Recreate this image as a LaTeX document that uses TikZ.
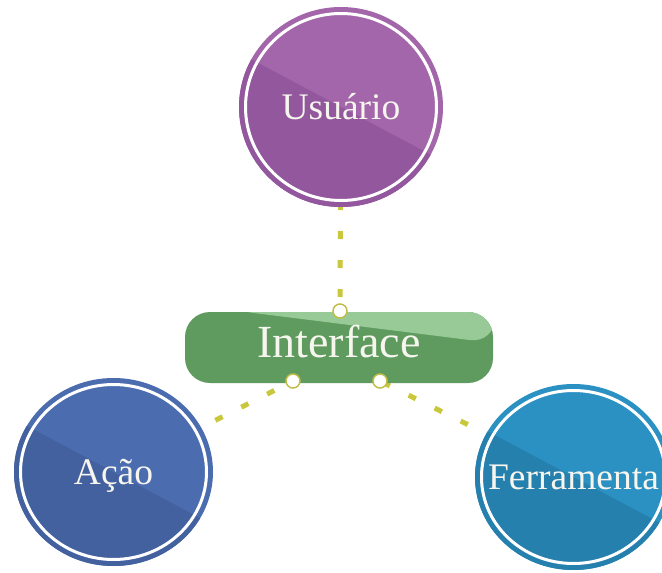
\documentclass[tikz,border=0pt]{standalone}
\usepackage{fontspec}
\setmainfont{Liberation Serif}
\usetikzlibrary{shapes.geometric,calc,backgrounds}

\definecolor{usuLight}{HTML}{A466AA}
\definecolor{usuDark}{HTML}{93579D}
\definecolor{acaoLight}{HTML}{4C6CB0}
\definecolor{acaoDark}{HTML}{43619F}
\definecolor{ferLight}{HTML}{2B90C2}
\definecolor{ferDark}{HTML}{2680AE}
\definecolor{ifLight}{HTML}{97CA97}
\definecolor{ifDark}{HTML}{5F9B5F}
\definecolor{linkCol}{HTML}{C9C83C}
\definecolor{dotRim}{HTML}{C2BC48}
\definecolor{labelCol}{HTML}{F6F5EE}

\tikzset{
  % split disc: lighter upper-right half, darker lower-left half, white inner ring
  bubble/.style n args={4}{
    ellipse, inner sep=0pt, minimum width=#3, minimum height=#4,
    fill=#1, text=labelCol, font=\fontsize{37.5}{42}\selectfont,
    text height=24.8pt, text depth=0pt,
    path picture={
      \fill[#2] ($(path picture bounding box.center)+(152:250pt)$)
             -- ($(path picture bounding box.center)+(-28:250pt)$)
             -- ($(path picture bounding box.center)+(-118:250pt)$) -- cycle;
      \draw[white, line width=3pt] (path picture bounding box.center)
             ellipse [x radius=#3/2-6.5pt, y radius=#4/2-6.5pt];
    }
  },
  hubbox/.style={
    rectangle, rounded corners=25pt, minimum width=308pt, minimum height=71pt,
    inner sep=0pt, fill=ifDark, text=labelCol, font=\fontsize{46}{50}\selectfont,
    text height=30.4pt, text depth=10pt,
    path picture={
      \fill[ifLight] ($(path picture bounding box.north west)+(45pt,2pt)$)
             -- ($(path picture bounding box.north east)+(2pt,2pt)$)
             -- ($(path picture bounding box.north east)+(2pt,-31.2pt)$) -- cycle;
    }
  },
  joint/.style={circle, inner sep=0pt, minimum size=14pt, fill=white,
    draw=dotRim, line width=1.5pt},
  link/.style={linkCol, line width=5pt, dash pattern=on 8pt off 21pt}
}

\begin{document}
\begin{tikzpicture}[x=1pt, y=-1pt]
  \useasboundingbox (0,0) rectangle (662,573);

  % the three outer discs (labels take no width, so the disc keeps its size)
  \node[bubble={usuLight}{usuDark}{204pt}{200pt}] (usuario) at (341,107) {\makebox[0pt]{Usuário}};
  \node[bubble={acaoLight}{acaoDark}{199pt}{188pt}] (acao) at (113.5,472) {\makebox[0pt]{Ação}};
  \node[bubble={ferLight}{ferDark}{197pt}{186pt}] (ferramenta) at (573.5,477) {\makebox[0pt]{Ferramenta}};

  % central box
  \node[hubbox] (interface) at (339,347.5) {Interface};

  % connection points on the box
  \node[joint] (ptop) at (340,311) {};
  \node[joint] (pleft) at (293,381) {};
  \node[joint] (pright) at (380,381) {};

  % dashed connectors behind everything
  \begin{scope}[on background layer]
    \draw[link, dash phase=15pt] (ptop.center) -- (usuario.center);
    \draw[link, dash phase=8pt] (pleft.center) -- (acao.center);
    \draw[link, dash phase=26pt] (pright.center) -- (ferramenta.center);
  \end{scope}
\end{tikzpicture}
\end{document}
